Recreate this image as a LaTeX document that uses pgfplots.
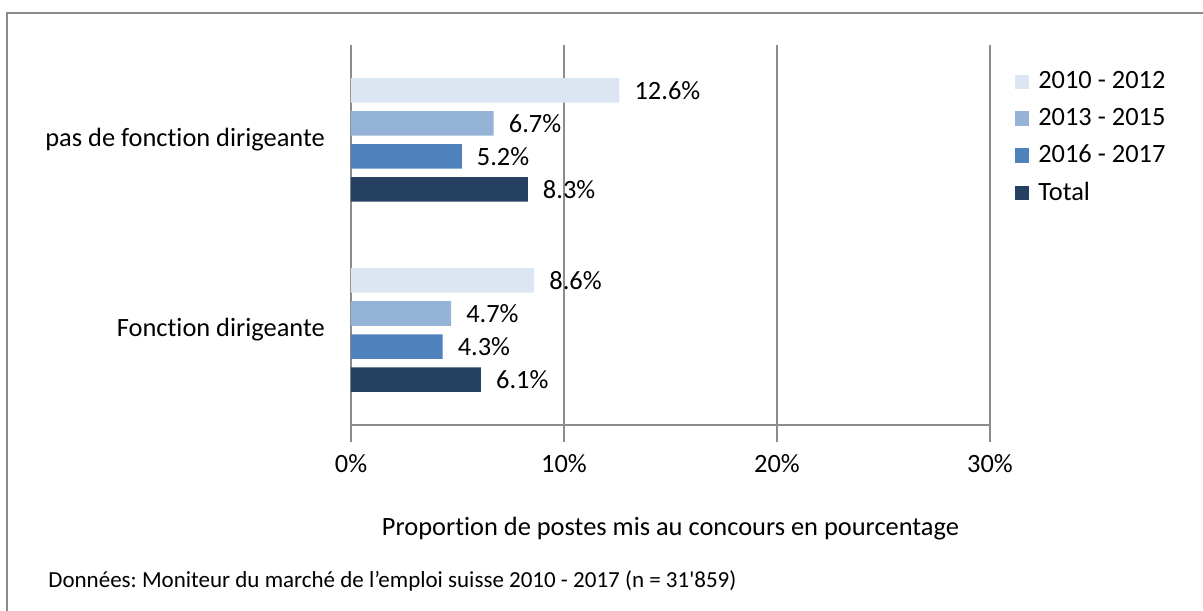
\documentclass[border=0pt]{standalone}
\usepackage{pgfplots}
\pgfplotsset{compat=1.18}
\usepackage{fontspec}
\setmainfont{Carlito}[Ligatures=NoCommon]
\definecolor{cA}{HTML}{DCE6F2}
\definecolor{cB}{HTML}{95B3D7}
\definecolor{cC}{HTML}{4F81BD}
\definecolor{cD}{HTML}{254061}
\definecolor{axgray}{HTML}{8C8C8C}

\begin{document}
\fontsize{13.2}{15.8}\selectfont
\begin{tikzpicture}
\useasboundingbox (-175.5pt,-92.5pt) rectangle (426pt,212.5pt);
\draw[axgray,line width=1pt] (-172pt,-93pt) -- (-172pt,206pt) -- (427pt,206pt);
\begin{axis}[
at={(0pt,0pt)},anchor=south west,
scale only axis,width=319.5pt,height=190pt,
xbar,bar width=12.25pt,
xmin=0,xmax=30,ymin=-0.5,ymax=1.5,
axis x line*=bottom,axis y line*=left,
axis line style={axgray,line width=1pt},
tick align=outside,major tick length=8.5pt,
tick style={axgray,line width=1pt},
xtick={0,10,20,30},xticklabels={0\%,10\%,20\%,30\%},
xticklabel style={yshift=-1.5pt},
xmajorgrids=true,grid style={axgray,line width=1pt},
ytick={0,1},yticklabels={Fonction dirigeante,pas de fonction dirigeante},
ytick style={draw=none},
extra y ticks={-0.5,0.5,1.5},extra y tick labels={},
extra y tick style={major tick length=4pt,tick style={draw=axgray},grid=none},
xlabel={Proportion de postes mis au concours en pourcentage},
xlabel style={at={(rel axis cs:0.5,0)},anchor=center,yshift=-52pt},
/pgf/number format/assume math mode=true,
point meta=x,
nodes near coords={\pgfmathprintnumber[fixed,fixed zerofill,precision=1]{\pgfplotspointmeta}\%},
nodes near coords style={anchor=west,text=black,xshift=3pt},
legend style={at={(1.029,0.952)},anchor=north west,draw=none,fill=none,row sep=3.7pt,column sep=2.5pt},
legend cell align=left,
legend image code/.code={\fill[#1] (0pt,-3.6pt) rectangle (7.2pt,3.6pt);},
]
\addplot[fill=cA,draw=none,bar shift=24.75pt] coordinates {(8.6,0) (12.6,1)};
\addplot[fill=cB,draw=none,bar shift=8.25pt] coordinates {(4.7,0) (6.7,1)};
\addplot[fill=cC,draw=none,bar shift=-8.25pt] coordinates {(4.3,0) (5.2,1)};
\addplot[fill=cD,draw=none,bar shift=-24.75pt] coordinates {(6.1,0) (8.3,1)};
\legend{2010 - 2012,2013 - 2015,2016 - 2017,Total}
\end{axis}
\node[anchor=west,inner sep=0pt,font=\fontsize{11.5}{14}\selectfont\frenchspacing] at (-151.5pt,-78pt) {Données: Moniteur du marché de l’emploi suisse 2010 - 2017 (n = 31\textquotesingle 859)};
\end{tikzpicture}
\end{document}
